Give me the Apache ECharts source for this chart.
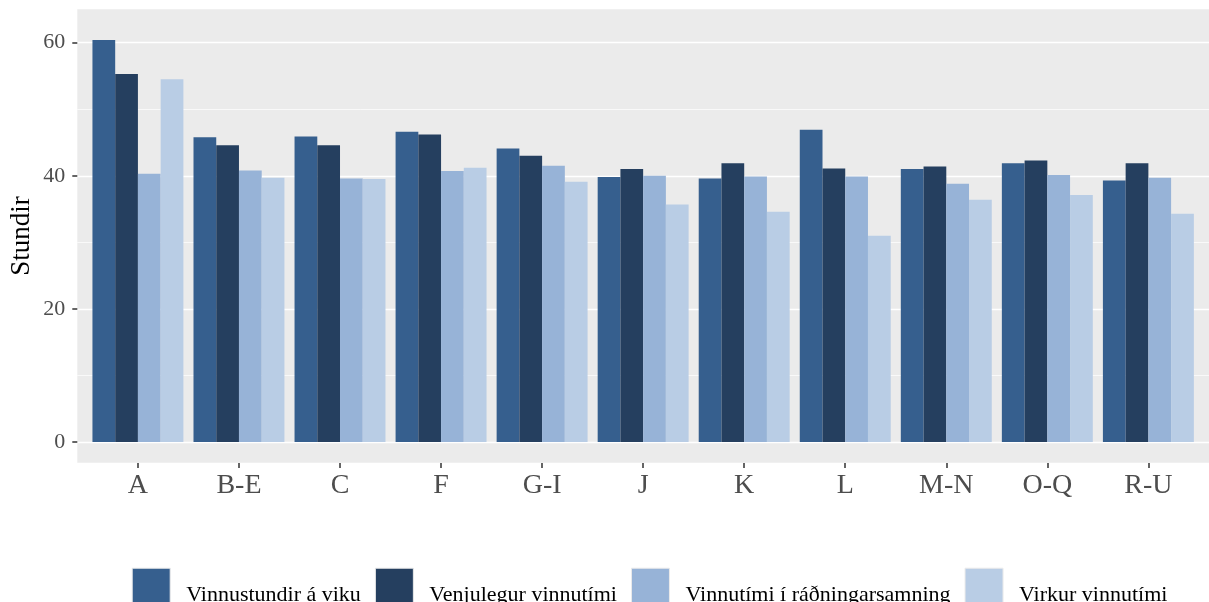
<!DOCTYPE html>
<html>
<head>
<meta charset="utf-8">
<script src="https://cdn.jsdelivr.net/npm/echarts@6/dist/echarts.min.js"></script>
<style>
  html, body { margin: 0; padding: 0; background: #fff; }
  #chart { width: 1209px; height: 602px; }
</style>
</head>
<body>
<div id="chart"></div>
<script>
// atvinnugreinar
const categories = ['A', 'B-E', 'C', 'F', 'G-I', 'J', 'K', 'L', 'M-N', 'O-Q', 'R-U']
// stundir á viku, lesið af myndinni
const vinnustundir = [60.4, 45.8, 45.9, 46.6, 44.1, 39.8, 39.6, 46.9, 41.0, 41.9, 39.3]
const venjulegur = [55.3, 44.6, 44.6, 46.2, 43.0, 41.0, 41.9, 41.1, 41.4, 42.3, 41.9]
const radningarsamningur = [40.3, 40.8, 39.6, 40.7, 41.5, 40.0, 39.9, 39.9, 38.8, 40.1, 39.7]
const virkur = [54.5, 39.7, 39.5, 41.2, 39.1, 35.7, 34.6, 31.0, 36.4, 37.1, 34.3]
const seriesNames = ['Vinnustundir á viku', 'Venjulegur vinnutími', 'Vinnutími í ráðningarsamning', 'Virkur vinnutími']

const colors = ['#365f8e', '#253f5f', '#97b3d7', '#b9cde5']
const serif = 'Liberation Serif'

const chart = echarts.init(document.getElementById('chart'))

const makeBar = (name, data, i) => ({
  name: name,
  type: 'bar',
  xAxisIndex: 1,
  yAxisIndex: 1,
  data: data,
  barGap: '0%',
  barCategoryGap: '10%',
  itemStyle: { color: colors[i] },
  emphasis: { disabled: true }
})

chart.setOption({
  animation: false,
  graphic: [
    {
      // grár bakgrunnur
      type: 'rect',
      z: -10,
      shape: { x: 77.3, y: 9.3, width: 1132, height: 453.4 },
      style: { fill: '#ebebeb' }
    },
    {
      type: 'text',
      x: 22,
      y: 236,
      rotation: Math.PI / 2,
      style: {
        text: 'Stundir',
        font: '27px "Liberation Serif"',
        fill: '#000',
        align: 'center',
        verticalAlign: 'middle'
      }
    }
  ],
  legend: {
    left: 131.7,
    top: 567.7,
    padding: 0,
    itemWidth: 38,
    itemHeight: 38,
    itemGap: 14,
    icon: 'rect',
    itemStyle: { borderColor: '#ebebeb', borderWidth: 1 },
    formatter: name => '{t|' + name + '}',
    textStyle: {
      fontFamily: serif,
      fontSize: 22,
      color: '#000',
      rich: {
        t: { fontFamily: serif, fontSize: 22, color: '#000', padding: [16, 0, 0, 11] }
      }
    },
    data: seriesNames
  },
  grid: [
    // rist fyrir ás og línur, full breidd
    { left: 77.3, right: 0, top: 42.7, bottom: 160 },
    // rist fyrir súlur, með útvíkkun eins og ggplot, nær niður að botni spjaldsins
    { left: 87.4, right: 10.1, top: 9.4, bottom: 139 }
  ],
  xAxis: [
    { type: 'category', gridIndex: 0, data: categories, show: false },
    {
      type: 'category',
      gridIndex: 1,
      data: categories,
      axisLine: { show: false, onZero: false },
      axisTick: { show: true, alignWithLabel: true, length: 5, lineStyle: { color: '#333', width: 1.5 } },
      axisLabel: { fontFamily: serif, fontSize: 28, color: '#4d4d4d', margin: 9 }
    }
  ],
  yAxis: [
    {
      type: 'value',
      gridIndex: 0,
      min: 0,
      max: 60,
      interval: 20,
      axisLine: { show: false },
      axisTick: { show: true, length: 5, lineStyle: { color: '#333', width: 1.5 } },
      axisLabel: { fontFamily: serif, fontSize: 22, color: '#4d4d4d', margin: 12 },
      splitLine: { show: true, lineStyle: { color: '#fff', width: 1.4 } },
      minorTick: { show: false, splitNumber: 2 },
      minorSplitLine: { show: true, lineStyle: { color: '#fff', width: 0.7 } }
    },
    { type: 'value', gridIndex: 1, min: -3.16, max: 65, show: false }
  ],
  series: [
    makeBar(seriesNames[0], vinnustundir, 0),
    makeBar(seriesNames[1], venjulegur, 1),
    makeBar(seriesNames[2], radningarsamningur, 2),
    makeBar(seriesNames[3], virkur, 3)
  ]
})
</script>
</body>
</html>
